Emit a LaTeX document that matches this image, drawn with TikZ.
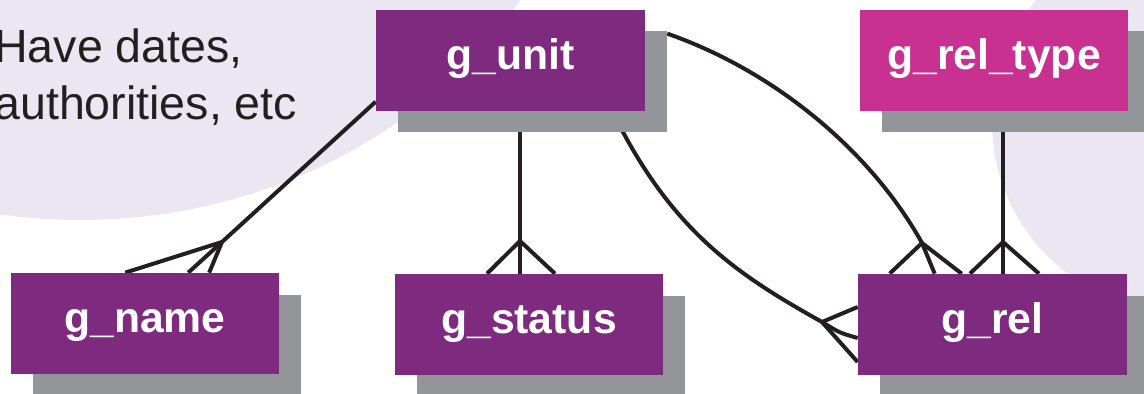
\documentclass[tikz,border=0pt]{standalone}
\usepackage{fontspec}
\setmainfont{Liberation Sans}
\usetikzlibrary{calc,shadows}

\definecolor{unitpurple}{HTML}{7E2A7E}
\definecolor{typepink}{HTML}{C8318F}
\definecolor{shadowgrey}{HTML}{939598}
\definecolor{cloud}{HTML}{EAE7F2}
\definecolor{ink}{HTML}{231F20}

\pgfdeclarelayer{bg}
\pgfdeclarelayer{links}
\pgfsetlayers{bg,links,main}

\begin{document}
\begin{tikzpicture}[x=0.02cm,y=-0.02cm]
\tikzstyle{table}=[fill=unitpurple, text=white, font=\bfseries\fontsize{24.3}{29}\selectfont,
  minimum width=5.38cm, minimum height=2.02cm, inner sep=0pt, text height=0.56cm, text depth=0.18cm,
  drop shadow={shadow xshift=0.44cm, shadow yshift=-0.43cm, fill=shadowgrey, opacity=1}]
\tikzstyle{lookup}=[table, fill=typepink]
\tikzstyle{link}=[ink, line width=0.08cm]
\tikzstyle{note}=[ink, font=\fontsize{26.5}{32}\selectfont, inner sep=0pt, anchor=base west]

\useasboundingbox (0,0) rectangle (1144,394);
\clip (0,0) rectangle (1144,394);

% tables
\node[table]  (unit)    at (510.5,60.5)  {g\_unit};
\node[lookup] (reltype) at (994,60.5)    {g\_rel\_type};
\node[table]  (name)    at (145,323.5)   {g\_name};
\node[table]  (status)  at (529,324.5)   {g\_status};
\node[table]  (rel)     at (992.5,324.5) {g\_rel};

\node[note] (note1) at (-6,63)  {Have dates,};
\node[note] (note2) at (-6,120) {authorities, etc};

% crow's feet
\coordinate (fname)   at (222,242);
\coordinate (fstatus) at (520,241);
\coordinate (frel)    at (922,243);
\coordinate (ftype)   at (1003,242);
\coordinate (fside)   at (822,322);

\begin{pgfonlayer}{bg}
\fill[cloud] (80,-250) ellipse [x radius=520, y radius=470];
\fill[cloud] (1182,122) circle [radius=190];
\end{pgfonlayer}

\begin{pgfonlayer}{links}
\draw[link] (unit.197.5) -- (fname);
\draw[link] (fname) -- ($(name.north west)+(115,0)$);
\draw[link] (fname) -- ($(name.north west)+(178,0)$);
\draw[link] (fname) -- ($(name.north west)+(199,0)$);

\draw[link] (fstatus |- unit.south) -- (fstatus);
\draw[link] (fstatus) -- ($(status.north)+(-42,0)$);
\draw[link] (fstatus) -- (fstatus |- status.north);
\draw[link] (fstatus) -- ($(status.north)+(26,0)$);

\draw[link] (ftype |- reltype.south) -- (ftype);
\draw[link] (ftype) -- ($(rel.north)+(-22.5,0)$);
\draw[link] (ftype) -- (ftype |- rel.north);
\draw[link] (ftype) -- ($(rel.north)+(46.5,0)$);

\draw[link] ($(unit.north east)+(22,24)$) .. controls (777,72) and (872,153) .. (frel);
\draw[link] (frel) -- ($(rel.north west)+(32,0)$);
\draw[link] (frel) -- ($(rel.north west)+(77,0)$);
\draw[link] (frel) -- ($(rel.north west)+(104,0)$);

\draw[link] ($(unit.south east)+(-32,2)$) .. controls (672,232) and (738,275) .. (fside);
\draw[link] (fside) -- ($(rel.west)+(0,-17.5)$);
\draw[link] (fside) .. controls (840,333) .. ($(rel.west)+(0,13.5)$);
\draw[link] (fside) -- ($(rel.west)+(0,37.5)$);
\end{pgfonlayer}
\end{tikzpicture}
\end{document}
